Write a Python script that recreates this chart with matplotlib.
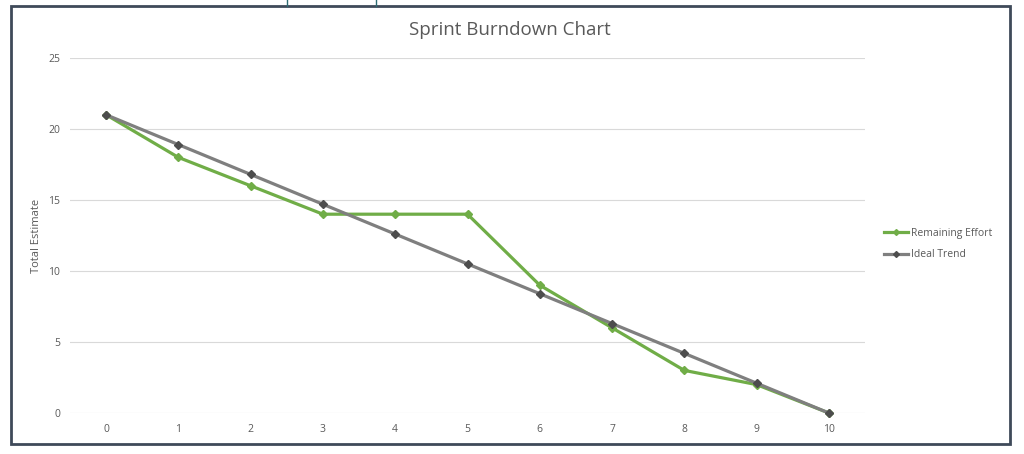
import matplotlib
matplotlib.use("Agg")
import matplotlib.pyplot as plt
from matplotlib.lines import Line2D

plt.rcParams['font.family'] = ['Open Sans', 'DejaVu Sans']

# data
days = [0, 1, 2, 3, 4, 5, 6, 7, 8, 9, 10]
remaining_effort = [21, 18, 16, 14, 14, 14, 9, 6, 3, 2, 0]
ideal_trend = [21, 18.9, 16.8, 14.7, 12.6, 10.5, 8.4, 6.3, 4.2, 2.1, 0]
y_ticks = [0, 5, 10, 15, 20, 25]

green = '#70AD47'
gray_line = '#7F7F7F'
gray_marker = '#4D4D4D'
text_gray = '#595959'

fig = plt.figure(figsize=(10.24, 4.54), dpi=100)
ax = fig.add_axes([70 / 1024, 1 - 413 / 454, 795 / 1024, 355 / 454])

ax.plot(days, remaining_effort, color=green, lw=2.3, marker='D', ms=4,
        markerfacecolor=green, markeredgecolor=green, label='Remaining Effort',
        zorder=3, clip_on=False)
ax.plot(days, ideal_trend, color=gray_line, lw=2.3, marker='D', ms=4.5,
        markerfacecolor=gray_marker, markeredgecolor=gray_marker, label='Ideal Trend',
        zorder=4, clip_on=False)

ax.set_xlim(-0.5, 10.5)
ax.set_ylim(0, 25)
ax.set_xticks(days)
ax.set_yticks(y_ticks)
ax.tick_params(length=0, labelsize=7.5, colors=text_gray, pad=8)
ax.tick_params(axis='y', pad=7)
ax.grid(axis='y', color='#D9D9D9', lw=0.8)
ax.set_axisbelow(True)
for s in ax.spines.values():
    s.set_visible(False)

ax.set_ylabel('Total Estimate', fontsize=8, color=text_gray)
ax.yaxis.set_label_coords((42 - 70) / 795, 0.5)
fig.text(0.498, 1 - 30 / 454, 'Sprint Burndown Chart', ha='center', va='center',
         fontsize=13.5, color=text_gray)

handles = [Line2D([], [], color=green, lw=2.3, marker='D', ms=3, markeredgecolor=green),
           Line2D([], [], color=gray_line, lw=2.3, marker='D', ms=3,
                  markerfacecolor=gray_marker, markeredgecolor=gray_marker)]
fig.legend(handles, ['Remaining Effort', 'Ideal Trend'], loc='center left',
           bbox_to_anchor=(875 / 1024, 1 - 244 / 454), frameon=False, fontsize=7.5,
           labelcolor=text_gray, handlelength=2.3, handletextpad=0.3, labelspacing=1.05)

# outer frame of the embedded chart and bits of the box above it
frame_color = '#3F4A59'
fig.add_artist(plt.Rectangle((11 / 1024, 1 - 444 / 454), 999 / 1024, 438 / 454,
                             fill=False, lw=2, edgecolor=frame_color, transform=fig.transFigure))
for xp in (287, 376):
    fig.add_artist(Line2D([xp / 1024, xp / 1024], [1 - 6 / 454, 1], color='#2E6B73',
                          lw=1, transform=fig.transFigure))

fig.savefig('out.png', dpi=100, facecolor='white')
